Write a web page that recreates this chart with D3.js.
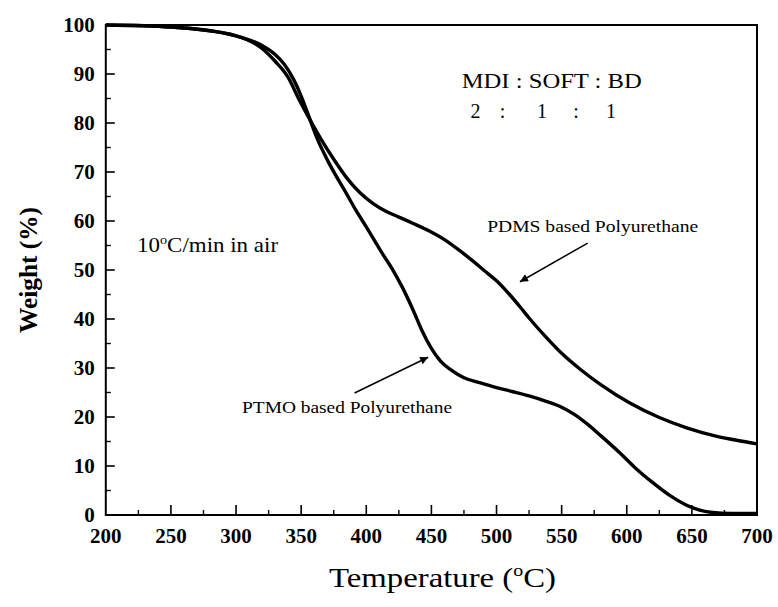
<!DOCTYPE html>
<html><head><meta charset="utf-8">
<script src="https://cdn.jsdelivr.net/npm/d3@7"></script>
<style>body{margin:0;background:#fff}svg{display:block}</style>
</head><body><svg id="c" width="778" height="607"></svg>
<script>
const xTicks = [200,250,300,350,400,450,500,550,600,650,700];
const yTicks = [0,10,20,30,40,50,60,70,80,90,100];
const ptmo = [[200,100],[250,99.6],[300,97.8],[320,95.8],[330,94],[337,92],[344,89],[350,85.5],[355,82],[362,77],[372,71.5],[385,65.5],[392,62.2],[400,58.8],[412,53.5],[420,50.2],[428,46.3],[436,41.8],[443,37.5],[450,34],[457,31.4],[465,29.6],[475,28],[487,27],[500,26],[512,25.2],[525,24.3],[537,23.3],[550,22],[560,20.5],[570,18.5],[580,16.2],[595,12.6],[607,9.5],[620,6.6],[633,4],[646,2],[656,1],[666,0.5],[680,0.3],[700,0.3]];
const pdms = [[200,100],[250,99.6],[300,97.8],[320,95.2],[330,92.6],[340,89.3],[348,85],[355,81.5],[365,76.8],[375,72.6],[385,68.8],[395,65.8],[405,63.6],[415,62],[425,60.8],[436,59.5],[448,58],[460,56.2],[470,54.3],[482,51.8],[490,50],[500,47.8],[510,45],[518,42.5],[525,40.2],[538,36.3],[550,33],[564,29.8],[580,26.6],[602,22.9],[625,19.9],[646,17.8],[670,16],[690,15],[700,14.5]];
const arrows = [{from:[570,55.5],to:[518,47.6]},{from:[391,24.9],to:[447.5,32.2]}];
const labels = [
 {t:"PDMS based Polyurethane",x:492.8,y:57.8,s:17,w:211},
 {t:"PTMO based Polyurethane",x:304.6,y:20.8,s:17,w:210},
 {t:"MDI : SOFT : BD",x:473.3,y:87.1,s:20,w:180}
];
const ratio = [{t:"2",x:480},{t:":",x:502.5},{t:"1",x:531},{t:":",x:559},{t:"1",x:584}];

const svg = d3.select("#c");
const L=105.8,R=757,T=25,B=515;
const x = d3.scaleLinear().domain([200,700]).range([L,R]);
const y = d3.scaleLinear().domain([0,100]).range([B,T]);

svg.append("rect").attr("x",L).attr("y",T).attr("width",R-L).attr("height",B-T)
  .attr("fill","none").attr("stroke","#000").attr("stroke-width",2);

const xMinor = d3.range(225,700,50);
svg.append("g").selectAll("line").data(xTicks.slice(1,-1)).join("line")
 .attr("x1",d=>x(d)).attr("x2",d=>x(d)).attr("y1",B).attr("y2",B-10).attr("stroke","#000").attr("stroke-width",1.6);
svg.append("g").selectAll("line").data(xMinor).join("line")
 .attr("x1",d=>x(d)).attr("x2",d=>x(d)).attr("y1",B).attr("y2",B-5).attr("stroke","#000").attr("stroke-width",1.4);
const yMinor = d3.range(5,100,10);
svg.append("g").selectAll("line").data(yTicks.slice(1,-1)).join("line")
 .attr("x1",L).attr("x2",L+9).attr("y1",d=>y(d)).attr("y2",d=>y(d)).attr("stroke","#000").attr("stroke-width",1.6);
svg.append("g").selectAll("line").data(yMinor).join("line")
 .attr("x1",L).attr("x2",L+5).attr("y1",d=>y(d)).attr("y2",d=>y(d)).attr("stroke","#000").attr("stroke-width",1.4);

svg.append("g").selectAll("text").data(xTicks).join("text")
 .attr("x",d=>x(d)).attr("y",543).attr("text-anchor","middle")
 .attr("font-size",21).attr("font-weight","bold").text(d=>d);
svg.append("g").selectAll("text").data(yTicks).join("text")
 .attr("x",L-11).attr("y",d=>y(d)+7).attr("text-anchor","end")
 .attr("font-size",21).attr("font-weight","bold").text(d=>d);

svg.append("text").attr("transform","translate(37,270) rotate(-90)").attr("text-anchor","middle")
 .attr("font-size",26).attr("font-weight","bold").attr("textLength",126).attr("lengthAdjust","spacingAndGlyphs").text("Weight (%)");
const xt = svg.append("text").attr("x",329).attr("y",587).attr("font-size",28)
 .attr("textLength",227).attr("lengthAdjust","spacingAndGlyphs");
xt.append("tspan").text("Temperature (");
xt.append("tspan").attr("font-size",17).attr("dy",-11).text("o");
xt.append("tspan").attr("dy",11).text("C)");

const line = d3.line().x(d=>x(d[0])).y(d=>y(d[1])).curve(d3.curveMonotoneX);
[pdms,ptmo].forEach(s=>svg.append("path").attr("d",line(s)).attr("fill","none")
  .attr("stroke","#000").attr("stroke-width",3.4).attr("stroke-linejoin","round"));

svg.append("defs").append("marker").attr("id","ah").attr("viewBox","0 0 10 10").attr("refX",10).attr("refY",5)
 .attr("markerWidth",13).attr("markerHeight",8).attr("markerUnits","userSpaceOnUse").attr("orient","auto")
 .append("path").attr("d","M0,0L10,5L0,10z").attr("fill","#000");
svg.append("g").selectAll("line").data(arrows).join("line")
 .attr("x1",d=>x(d.from[0])).attr("y1",d=>y(d.from[1])).attr("x2",d=>x(d.to[0])).attr("y2",d=>y(d.to[1]))
 .attr("stroke","#000").attr("stroke-width",1.5).attr("marker-end","url(#ah)");

svg.append("g").selectAll("text").data(labels).join("text")
 .attr("x",d=>x(d.x)).attr("y",d=>y(d.y)).attr("font-size",d=>d.s)
 .attr("textLength",d=>d.w).attr("lengthAdjust","spacingAndGlyphs").text(d=>d.t);
svg.append("g").selectAll("text").data(ratio).join("text")
 .attr("x",d=>x(d.x)).attr("y",y(81)).attr("font-size",20).text(d=>d.t);
const rt = svg.append("text").attr("x",x(224)).attr("y",y(53.7)).attr("font-size",21)
 .attr("textLength",141).attr("lengthAdjust","spacingAndGlyphs");
rt.append("tspan").text("10");
rt.append("tspan").attr("font-size",13).attr("dy",-8).text("o");
rt.append("tspan").attr("dy",8).text("C/min in air");

svg.selectAll("text").style("font-family","\"Liberation Serif\", \"Times New Roman\", Times, serif");
</script></body></html>
